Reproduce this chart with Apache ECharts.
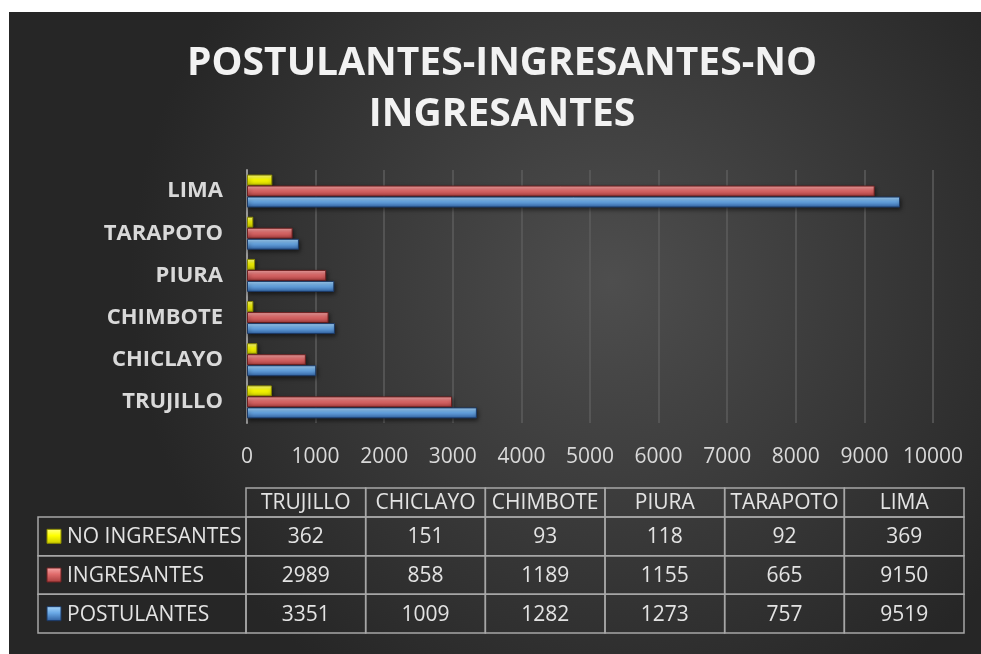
<!DOCTYPE html>
<html><head><meta charset="utf-8">
<script src="https://cdn.jsdelivr.net/npm/echarts@6/dist/echarts.min.js"></script>
<style>html,body{margin:0;padding:0;background:#fff;}#c{position:absolute;left:9px;top:12px;width:972px;height:642px;}</style>
</head><body><div id="c"></div>
<script>
const categories = ['TRUJILLO','CHICLAYO','CHIMBOTE','PIURA','TARAPOTO','LIMA'];
const seriesNames = ['NO INGRESANTES','INGRESANTES','POSTULANTES'];
const noIngresantes = [362,151,93,118,92,369];
const ingresantes = [2989,858,1189,1155,665,9150];
const postulantes = [3351,1009,1282,1273,757,9519];
const xTickMax = 10000, xTickStep = 1000;
const titleLines = ['POSTULANTES-INGRESANTES-NO','INGRESANTES'];

const seriesValues = [noIngresantes, ingresantes, postulantes];
const G = echarts.graphic;
const barStyles = [
  {stops:['#ffff8a','#ffff00','#c9c900'], border:'#8a8a00'},
  {stops:['#f6a9a9','#e06b6b','#a63c3c'], border:'#6e2020'},
  {stops:['#a8d6fa','#6aa9e6','#2f5f9f'], border:'#1c3a66'}
];
function grad(st){return new G.LinearGradient(0,0,0,1,[{offset:0,color:st[0]},{offset:0.45,color:st[1]},{offset:1,color:st[2]}]);}

const tableData = [];
seriesValues.forEach((arr,r)=>arr.forEach((v,c)=>tableData.push([c,r,v])));
const txtColor = '#e3e3e3';
const lineColor = '#a6a6a6';
const headerH = 29, legendW = 208;
const font21 = '21px "Open Sans"';

function cellText(t,x,y,align){
  return {type:'text',style:{text:String(t),x:x,y:y,fill:txtColor,font:font21,align:align||'center',verticalAlign:'middle',textAlign:align||'center',textVerticalAlign:'middle'}};
}
function cellRect(x,y,w,h){
  return {type:'rect',shape:{x:x,y:y,width:w,height:h},style:{fill:'none',stroke:lineColor,lineWidth:1.5}};
}
function renderCell(params, api){
  const c = api.value(0), r = api.value(1), v = api.value(2);
  const p = api.coord([c,r]);
  const s = api.size([1,1]);
  const x = p[0]-s[0]/2, y = p[1]-s[1]/2, w = s[0], h = s[1];
  const ch = [cellRect(x,y,w,h), cellText(v,p[0],p[1]+1)];
  if (r===0){
    ch.push(cellRect(x,y-headerH,w,headerH));
    ch.push(cellText(categories[c],p[0],y-headerH/2+1));
  }
  if (c===0){
    ch.push(cellRect(x-legendW,y,legendW,h));
    ch.push({type:'rect',shape:{x:x-legendW+9,y:p[1]-7,width:14,height:14},style:{fill:grad(barStyles[r].stops),stroke:barStyles[r].border,lineWidth:1}});
    ch.push(cellText(seriesNames[r],x-legendW+29,p[1]+1,'left'));
  }
  return {type:'group',children:ch};
}

const chart = echarts.init(document.getElementById('c'), null, {renderer:'canvas'});
const option = {
  animation:false,
  backgroundColor: new G.RadialGradient(0.62,0.42,0.75,[{offset:0,color:'#4e4e4e'},{offset:1,color:'#262626'}]),
  graphic:[{
    type:'text', x:493, y:77,
    style:{text:titleLines.join('\n'), fill:'#f2f2f2', font:'bold 39px "Open Sans"', lineHeight:51,
      align:'center', verticalAlign:'middle', textAlign:'center', textVerticalAlign:'middle',
      shadowColor:'rgba(0,0,0,0.7)', shadowBlur:5, shadowOffsetX:1, shadowOffsetY:3}
  }],
  grid:[
    {left:238, right:48, top:158, height:253, containLabel:false},
    {left:237, right:17, top:505, height:116, containLabel:false}
  ],
  xAxis:[
    {type:'value', gridIndex:0, min:0, max:xTickMax, interval:xTickStep,
      axisLine:{show:false}, axisTick:{show:false},
      axisLabel:{color:'#d9d9d9', fontFamily:'Open Sans', fontSize:21, margin:24, formatter:(v)=>String(v)},
      splitLine:{show:true, lineStyle:{color:'#5c5c5c', width:1.5}}},
    {type:'category', gridIndex:1, data:categories, show:false}
  ],
  yAxis:[
    {type:'category', gridIndex:0, data:categories,
      axisLine:{show:true, lineStyle:{color:'#9a9a9a', width:2}}, axisTick:{show:false},
      axisLabel:{color:'#d9d9d9', fontFamily:'Open Sans', fontWeight:'bold', fontSize:22, margin:24, padding:[6,0,0,0]},
      splitLine:{show:false}},
    {type:'category', gridIndex:1, data:seriesNames, inverse:true, show:false}
  ],
  series: seriesNames.map((n,i)=>({
    name:n, type:'bar', xAxisIndex:0, yAxisIndex:0, data:seriesValues[i],
    barWidth:11, barGap:'0%',
    itemStyle:{color:grad(barStyles[i].stops), borderColor:barStyles[i].border, borderWidth:1,
      shadowColor:'rgba(0,0,0,0.55)', shadowBlur:4, shadowOffsetX:1, shadowOffsetY:2}
  })).concat([{
    type:'custom', xAxisIndex:1, yAxisIndex:1, data:tableData, renderItem:renderCell, clip:false, silent:true
  }])
};
chart.setOption(option);
</script></body></html>
